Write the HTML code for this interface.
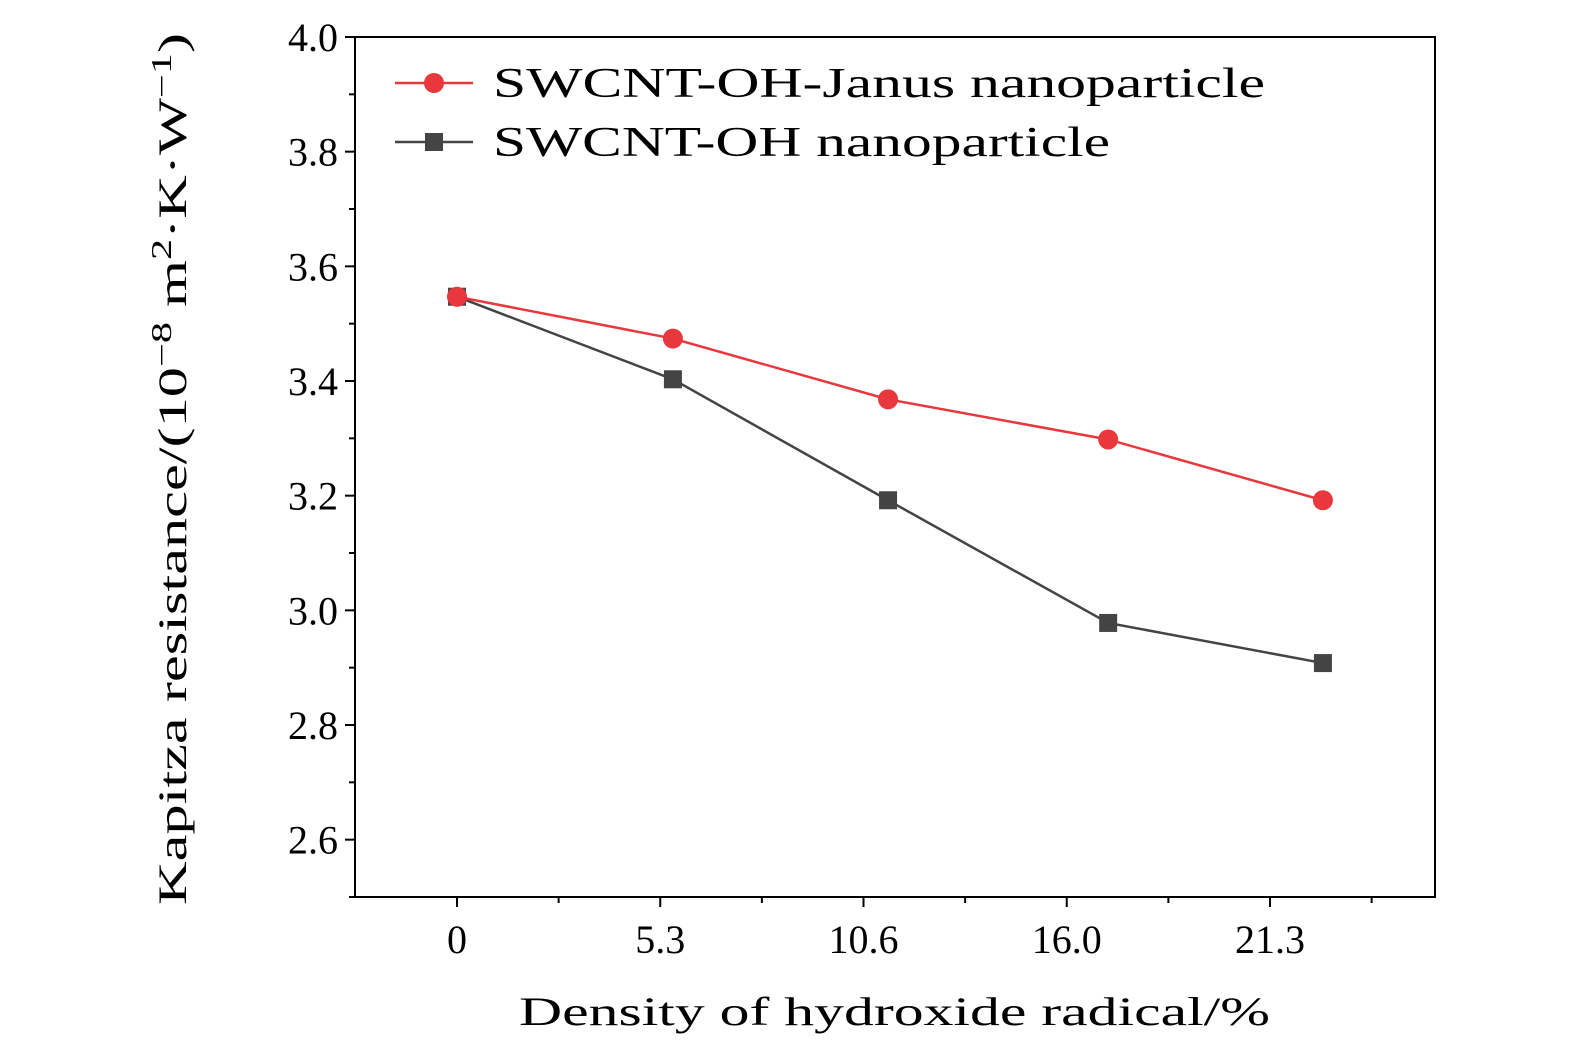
<!DOCTYPE html>
<html><head><meta charset="utf-8"><style>
html,body{margin:0;padding:0;background:#fff;}
svg{display:block;font-family:"Liberation Serif",serif;}
</style></head><body>
<svg id="chart" width="1575" height="1053" viewBox="0 0 1575 1053" xmlns="http://www.w3.org/2000/svg"></svg>
<script>
const xValues = [0, 5.63, 11.24, 16.98, 22.58];
const janusValues = [3.547, 3.474, 3.368, 3.298, 3.192];
const ohValues = [3.547, 3.403, 3.192, 2.978, 2.908];
const xTickValues = [0, 5.3, 10.6, 15.9, 21.2];
const xTickLabels = ["0", "5.3", "10.6", "16.0", "21.3"];
const yTickValues = [2.6, 2.8, 3.0, 3.2, 3.4, 3.6, 3.8, 4.0];

const L=355,R=1435,T=37,B=897;
const xPx0=457, xPerUnit=203.25/5.3;
const X=v=>xPx0+v*xPerUnit;
const Y=v=>T+(4.0-v)*(B-T)/1.5;
const svg=document.getElementById('chart');
const NS='http://www.w3.org/2000/svg';
function el(tag,attrs,parent){const e=document.createElementNS(NS,tag);for(const k in attrs)e.setAttribute(k,attrs[k]);(parent||svg).appendChild(e);return e;}

const frame=el('rect',{x:L,y:T,width:R-L,height:B-T,fill:'none',stroke:'#000','stroke-width':2});



xTickValues.forEach((v,i)=>{
  const x=X(v);
  const t=el('line',{x1:x,y1:B,x2:x,y2:B+10,stroke:'#000','stroke-width':2});
  
  
  const m=el('line',{x1:X(v+2.65),y1:B,x2:X(v+2.65),y2:B+6,stroke:'#000','stroke-width':2});
  
  
  const lb=el('text',{x:x,y:953,'font-size':40,'text-anchor':'middle'});
  lb.textContent=xTickLabels[i];
  
  
});
yTickValues.forEach(v=>{
  const y=Y(v);
  const t=el('line',{x1:L,y1:y,x2:L-10,y2:y,stroke:'#000','stroke-width':2});
  
  
  const my=Y(v-0.1);
  const m=el('line',{x1:L,y1:my,x2:L-6,y2:my,stroke:'#000','stroke-width':2});
  
  
  const lb=el('text',{x:338,y:y+14,'font-size':40,'text-anchor':'end'});
  lb.textContent=v.toFixed(1);
  
  
});

const xt=el('text',{x:519,y:1025,'font-size':40,textLength:751,lengthAdjust:'spacingAndGlyphs'});
xt.textContent='Density of hydroxide radical/%';



const yt=el('text',{x:-905,y:186,'font-size':40,transform:'rotate(-90)',textLength:872,lengthAdjust:'spacingAndGlyphs'});
yt.innerHTML='Kapitza resistance/(10<tspan dy="-15" font-size="28">−8</tspan><tspan dy="15"> m</tspan><tspan dy="-15" font-size="28">2</tspan><tspan dy="15">·K·W</tspan><tspan dy="-15" font-size="28">−1</tspan><tspan dy="15">)</tspan>';



function series(vals,color,shape,name){
  const g=el('g',{});
  
  
  const pts=vals.map((v,i)=>X(xValues[i])+','+Y(v)).join(' ');
  el('polyline',{points:pts,fill:'none',stroke:color,'stroke-width':2.5},g);
  vals.forEach((v,i)=>{
    const cx=X(xValues[i]),cy=Y(v);
    let m;
    if(shape==='circle') m=el('circle',{cx:cx,cy:cy,r:10,fill:color},g);
    else m=el('rect',{x:cx-9,y:cy-9,width:18,height:18,fill:color},g);
    
    
  });
}
series(ohValues,'#444','square','series-swcnt-oh');
series(janusValues,'#e8383d','circle','series-swcnt-oh-janus');

const lg=el('g',{});


el('line',{x1:395,y1:83,x2:473,y2:83,stroke:'#e8383d','stroke-width':2.5},lg);
el('circle',{cx:434,cy:83,r:10,fill:'#e8383d'},lg);
const t1=el('text',{x:493,y:97,'font-size':42,textLength:772,lengthAdjust:'spacingAndGlyphs'},lg);
t1.textContent='SWCNT-OH-Janus nanoparticle';


el('line',{x1:395,y1:142,x2:473,y2:142,stroke:'#444','stroke-width':2.5},lg);
el('rect',{x:425,y:133,width:18,height:18,fill:'#444'},lg);
const t2=el('text',{x:493,y:156,'font-size':42,textLength:617,lengthAdjust:'spacingAndGlyphs'},lg);
t2.textContent='SWCNT-OH nanoparticle';


</script>
</body></html>
